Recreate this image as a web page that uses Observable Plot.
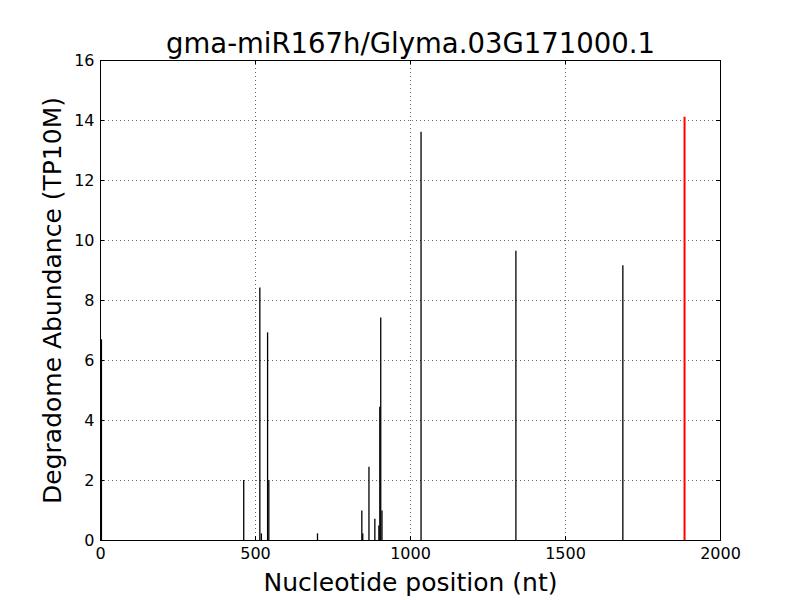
<!DOCTYPE html>
<html>
<head>
<meta charset="utf-8">
<script src="https://cdn.jsdelivr.net/npm/d3@7"></script>
<script src="https://cdn.jsdelivr.net/npm/@observablehq/plot@0.6"></script>
<style>
  html, body { margin: 0; padding: 0; background: #fff; }
  #chart svg { display: block; }
</style>
</head>
<body>
<div id="chart"></div>
<script>
const title = "gma-miR167h/Glyma.03G171000.1";
const xLabel = "Nucleotide position (nt)";
const yLabel = "Degradome Abundance (TP10M)";

// degradome peaks (nucleotide position, abundance)
const positions = [3, 462, 514, 519, 539, 543, 700, 843, 846, 866, 885, 898, 901, 904, 908, 1034, 1340, 1685];
const abundances = [6.69, 2.0, 8.42, 0.22, 6.92, 2.0, 0.22, 0.98, 0.22, 2.44, 0.71, 0.48, 4.44, 7.42, 0.98, 13.61, 9.64, 9.16];
// target site (highlighted)
const targetPositions = [1884];
const targetAbundances = [14.11];

const xTicks = [0, 500, 1000, 1500, 2000];
const yTicks = [0, 2, 4, 6, 8, 10, 12, 14, 16];

const peaks = positions.map((p, i) => ({pos: p, val: abundances[i]}));
const targets = targetPositions.map((p, i) => ({pos: p, val: targetAbundances[i]}));

const W = 800, H = 600;
const mL = 100, mR = 80, mT = 60, mB = 60;
const innerH = H - mT - mB, innerW = W - mL - mR;
const tk = 4;

const chart = Plot.plot({
  width: W,
  height: H,
  marginLeft: mL,
  marginRight: mR,
  marginTop: mT,
  marginBottom: mB,
  style: {fontFamily: "DejaVu Sans, sans-serif", background: "white", color: "black"},
  x: {domain: [0, 2000], label: null},
  y: {domain: [0, 16], label: null},
  marks: [
    // dotted grid
    Plot.gridX(xTicks, {stroke: "black", strokeOpacity: 1, strokeWidth: 0.6, strokeDasharray: "1,3"}),
    Plot.gridY(yTicks, {stroke: "black", strokeOpacity: 1, strokeWidth: 0.6, strokeDasharray: "1,3"}),
    // peaks
    Plot.ruleX(peaks, {x: "pos", y1: 0, y2: "val", stroke: "black", strokeWidth: 1.3}),
    Plot.ruleX(targets, {x: "pos", y1: 0, y2: "val", stroke: "red", strokeWidth: 2}),
    // inward ticks on all sides
    Plot.tickX(xTicks, {x: d => d, insetTop: innerH - tk, stroke: "black"}),
    Plot.tickX(xTicks, {x: d => d, insetBottom: innerH - tk, stroke: "black"}),
    Plot.tickY(yTicks, {y: d => d, insetRight: innerW - tk, stroke: "black"}),
    Plot.tickY(yTicks, {y: d => d, insetLeft: innerW - tk, stroke: "black"}),
    // tick labels
    Plot.axisX(xTicks, {tickSize: 0, tickPadding: 7, fontSize: 16, label: null, tickFormat: d => String(d)}),
    Plot.axisY(yTicks, {tickSize: 0, tickPadding: 6, fontSize: 16, label: null, tickFormat: d => String(d)}),
    Plot.frame({stroke: "black", strokeWidth: 1}),
    // title & axis labels
    Plot.text([title], {frameAnchor: "top", lineAnchor: "middle", dy: -16, fontSize: 27.5, text: d => d, fill: "black"}),
    Plot.text([xLabel], {frameAnchor: "bottom", lineAnchor: "middle", dy: 42, fontSize: 25, text: d => d, fill: "black"}),
    Plot.text([yLabel], {frameAnchor: "left", lineAnchor: "middle", dx: -48, rotate: -90, textAnchor: "middle", fontSize: 25, text: d => d, fill: "black"})
  ]
});
document.getElementById("chart").appendChild(chart);
</script>
</body>
</html>
